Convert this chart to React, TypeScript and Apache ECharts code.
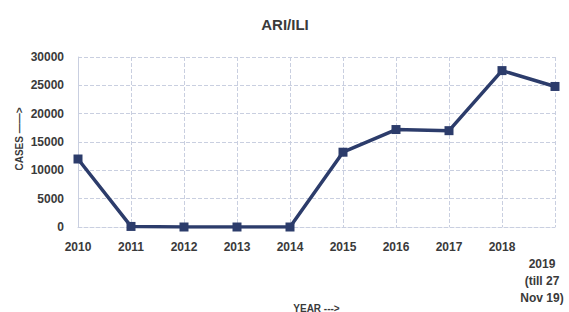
import React, { useEffect, useRef } from "react";
import * as echarts from "echarts";

const years = ["2010", "2011", "2012", "2013", "2014", "2015", "2016", "2017", "2018", "2019"];
const cases = [12000, 100, 0, 0, 0, 13200, 17200, 17000, 27600, 24800];
const yTicks = { min: 0, max: 30000, interval: 5000 };

export default function App() {
  const ref = useRef<HTMLDivElement>(null);
  useEffect(() => {
    if (!ref.current) return;
    const chart = echarts.init(ref.current, null, { renderer: "svg" });
    const font = "'Liberation Sans', Arial, sans-serif";
    const gridColor = "#c9cfe0";
    chart.setOption({
      animation: false,
      backgroundColor: "#ffffff",
      title: {
        text: "ARI/ILI",
        left: 280,
        top: 12,
        textAlign: "center",
        textStyle: { fontFamily: font, fontSize: 15, fontWeight: "bold", color: "#3a3a3a" },
      },
      grid: { left: 78, right: 14, top: 57, bottom: 85, containLabel: false, outerBoundsMode: "none" },
      xAxis: {
        type: "category",
        boundaryGap: false,
        data: years.map((y) =>
          y === "2019"
            ? { value: y, textStyle: { padding: [0, 26, 0, 0] } }
            : y
        ),
        name: "YEAR --->",
        nameLocation: "middle",
        nameGap: 76,
        nameMoveOverlap: false,
        nameTextStyle: { fontFamily: font, fontSize: 10, fontWeight: "bold", color: "#3a3a3a" },
        axisLine: { lineStyle: { color: gridColor, type: "dashed" } },
        axisTick: { show: false },
        splitLine: { show: true, lineStyle: { color: gridColor, type: "dashed" } },
        axisLabel: {
          fontFamily: font,
          fontSize: 12,
          fontWeight: "bold",
          color: "#3a3a3a",
          margin: 11,
          lineHeight: 17,
          interval: 0,
          formatter: (v: string) => (v === "2019" ? "\n2019\n(till 27\nNov 19)" : v),
        },
      },
      yAxis: {
        type: "value",
        min: yTicks.min,
        max: yTicks.max,
        interval: yTicks.interval,
        name: "CASES ——>",
        nameLocation: "middle",
        nameGap: 54,
        nameMoveOverlap: false,
        nameRotate: 90,
        nameTextStyle: { fontFamily: font, fontSize: 10, fontWeight: "bold", color: "#3a3a3a", padding: [0, 0, 0, 6] },
        axisLine: { show: true, lineStyle: { color: gridColor, type: "dashed" } },
        axisTick: { show: false },
        splitLine: { show: true, lineStyle: { color: gridColor, type: "dashed" } },
        axisLabel: {
          fontFamily: font,
          fontSize: 12,
          fontWeight: "bold",
          color: "#3a3a3a",
          margin: 14,
          formatter: (v: number) => String(v),
        },
      },
      series: [
        {
          type: "line",
          data: cases,
          symbol: "rect",
          symbolSize: 9,
          lineStyle: { color: "#2c3c6b", width: 3.5 },
          itemStyle: { color: "#2c3c6b" },
        },
      ],
    });
    return () => chart.dispose();
  }, []);
  return <div ref={ref} style={{ width: 569, height: 312, position: "absolute", left: 0, top: 0 }} />;
}
